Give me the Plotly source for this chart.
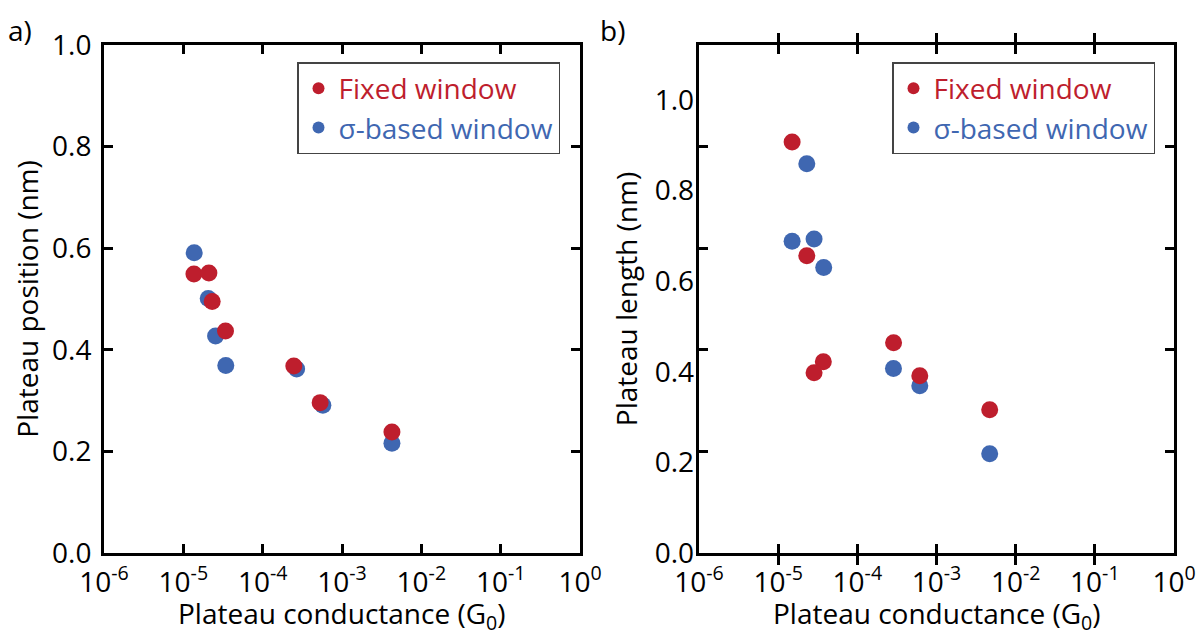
import plotly.graph_objects as go

# ---- data ----
# panel a) plateau position vs plateau conductance
a_fixed_g = [1.36e-5, 2.1e-5, 2.31e-5, 3.4e-5, 2.47e-4, 5.3e-4, 4.26e-3]
a_fixed_pos = [0.549, 0.551, 0.495, 0.437, 0.368, 0.296, 0.238]
a_sigma_g = [1.37e-5, 2.06e-5, 2.55e-5, 3.43e-5, 2.68e-4, 5.74e-4, 4.26e-3]
a_sigma_pos = [0.591, 0.501, 0.427, 0.369, 0.362, 0.291, 0.216]

# panel b) plateau length vs plateau conductance
b_fixed_g = [1.5e-5, 2.3e-5, 2.87e-4, 3.72e-5, 2.84e-5, 6.15e-4, 4.7e-3]
b_fixed_len = [0.907, 0.656, 0.464, 0.422, 0.398, 0.391, 0.316]
b_sigma_g = [2.3e-5, 1.5e-5, 2.84e-5, 3.76e-5, 2.86e-4, 6.15e-4, 4.7e-3]
b_sigma_len = [0.859, 0.688, 0.693, 0.630, 0.407, 0.369, 0.219]

x_tickvals = [1e-6, 1e-5, 1e-4, 1e-3, 1e-2, 1e-1, 1]
x_ticktext = ["10<sup>-6</sup>", "10<sup>-5</sup>", "10<sup>-4</sup>", "10<sup>-3</sup>",
              "10<sup>-2</sup>", "10<sup>-1</sup>", "10<sup>0</sup>"]
y_tickvals = [0.0, 0.2, 0.4, 0.6, 0.8, 1.0]
y_ticktext = ["0.0", "0.2", "0.4", "0.6", "0.8", "1.0"]
b_mark_vals = [0.2, 0.4, 0.6, 0.8]
x_title = "Plateau conductance (G<sub>0</sub>)"

RED = "#BE1E2D"
BLUE = "#3F67B1"
FONT = "Open Sans"
FS = 28

fig = go.Figure()

def pts(x, y, color, xa, ya):
    fig.add_trace(go.Scatter(x=x, y=y, mode="markers", xaxis=xa, yaxis=ya,
                             marker=dict(size=17, color=color, line=dict(width=0)),
                             showlegend=False, hoverinfo="x+y"))

pts(a_sigma_g, a_sigma_pos, BLUE, "x", "y")
pts(a_fixed_g, a_fixed_pos, RED, "x", "y")
pts(b_sigma_g, b_sigma_len, BLUE, "x2", "y2")
pts(b_fixed_g, b_fixed_len, RED, "x2", "y2")

def leg(name, color, xa, ya, legend):
    fig.add_trace(go.Scatter(x=[None], y=[None], mode="markers", xaxis=xa, yaxis=ya,
                             marker=dict(size=12, color=color),
                             name=f'<span style="color:{color}">{name}</span>',
                             legend=legend, showlegend=True))

leg("Fixed window", RED, "x", "y", "legend")
leg("σ-based window", BLUE, "x", "y", "legend")
leg("Fixed window", RED, "x2", "y2", "legend2")
leg("σ-based window", BLUE, "x2", "y2", "legend2")

L0, L1 = 104 / 1198, 580 / 1198
R0, R1 = 699 / 1198, 1174 / 1198
B, T = 1 - 553 / 636, 1 - 45 / 636

tfont = dict(family=FONT, size=FS, color="black")

xcommon = dict(type="log", range=[-6, 0], tickvals=x_tickvals, ticktext=x_ticktext,
               ticks="inside", ticklen=9, tickwidth=2.5, tickcolor="black",
               showline=True, linecolor="black", linewidth=3, mirror="allticks",
               showgrid=False, zeroline=False, automargin=False,
               tickfont=tfont, ticklabelstandoff=2)

fig.update_layout(
    width=1198, height=636,
    margin=dict(l=0, r=0, t=0, b=0),
    paper_bgcolor="white", plot_bgcolor="white",
    font=dict(family=FONT, size=FS, color="black"),
    xaxis=dict(domain=[L0, L1], anchor="y", **xcommon),
    xaxis2=dict(domain=[R0, R1], anchor="y2", **xcommon),
    yaxis=dict(domain=[B, T], anchor="x", range=[0, 1.0], tickvals=y_tickvals, ticktext=y_ticktext,
               ticks="inside", ticklen=9, tickwidth=2.5, tickcolor="black",
               showline=True, linecolor="black", linewidth=3, mirror="allticks",
               showgrid=False, zeroline=False, automargin=False,
               tickfont=tfont, ticklabelstandoff=4,
               title=dict(text="Plateau position (nm)", font=tfont, standoff=6)),
    yaxis2=dict(domain=[B, T], anchor="x2", range=[0, 1.121], tickvals=y_tickvals, ticktext=y_ticktext,
                ticks="", showline=False, showgrid=False, zeroline=False, automargin=False,
                tickfont=tfont, ticklabelstandoff=4,
                title=dict(text="Plateau length (nm)", font=tfont, standoff=8)),
    yaxis3=dict(domain=[B, T], anchor="x2", overlaying="y2", side="left", range=[0, 1.0],
                tickvals=b_mark_vals, showticklabels=False,
                ticks="inside", ticklen=9, tickwidth=2.5, tickcolor="black",
                showline=True, linecolor="black", linewidth=3, mirror="allticks",
                showgrid=False, zeroline=False, automargin=False),
    legend=dict(x=297 / 1198, y=1 - 62 / 636, xanchor="left", yanchor="top",
                bgcolor="white", bordercolor="#444", borderwidth=1.5,
                font=dict(family=FONT, size=FS), tracegroupgap=0, itemwidth=30),
    legend2=dict(x=892 / 1198, y=1 - 62 / 636, xanchor="left", yanchor="top",
                 bgcolor="white", bordercolor="#444", borderwidth=1.5,
                 font=dict(family=FONT, size=FS), tracegroupgap=0, itemwidth=30),
    annotations=[
        dict(text="a)", x=6 / 1198, y=1 - 30 / 636, xref="paper", yref="paper",
             xanchor="left", yanchor="middle", showarrow=False, font=tfont),
        dict(text="b)", x=598 / 1198, y=1 - 30 / 636, xref="paper", yref="paper",
             xanchor="left", yanchor="middle", showarrow=False, font=tfont),
        dict(text=x_title, x=(L0 + L1) / 2, y=1 - 615 / 636, xref="paper", yref="paper",
             xanchor="center", yanchor="middle", showarrow=False, font=tfont),
        dict(text=x_title, x=(R0 + R1) / 2, y=1 - 615 / 636, xref="paper", yref="paper",
             xanchor="center", yanchor="middle", showarrow=False, font=tfont),
    ],
)

fig.add_trace(go.Scatter(x=[None], y=[None], xaxis="x2", yaxis="y3", showlegend=False))

fig.write_html("out.html")
